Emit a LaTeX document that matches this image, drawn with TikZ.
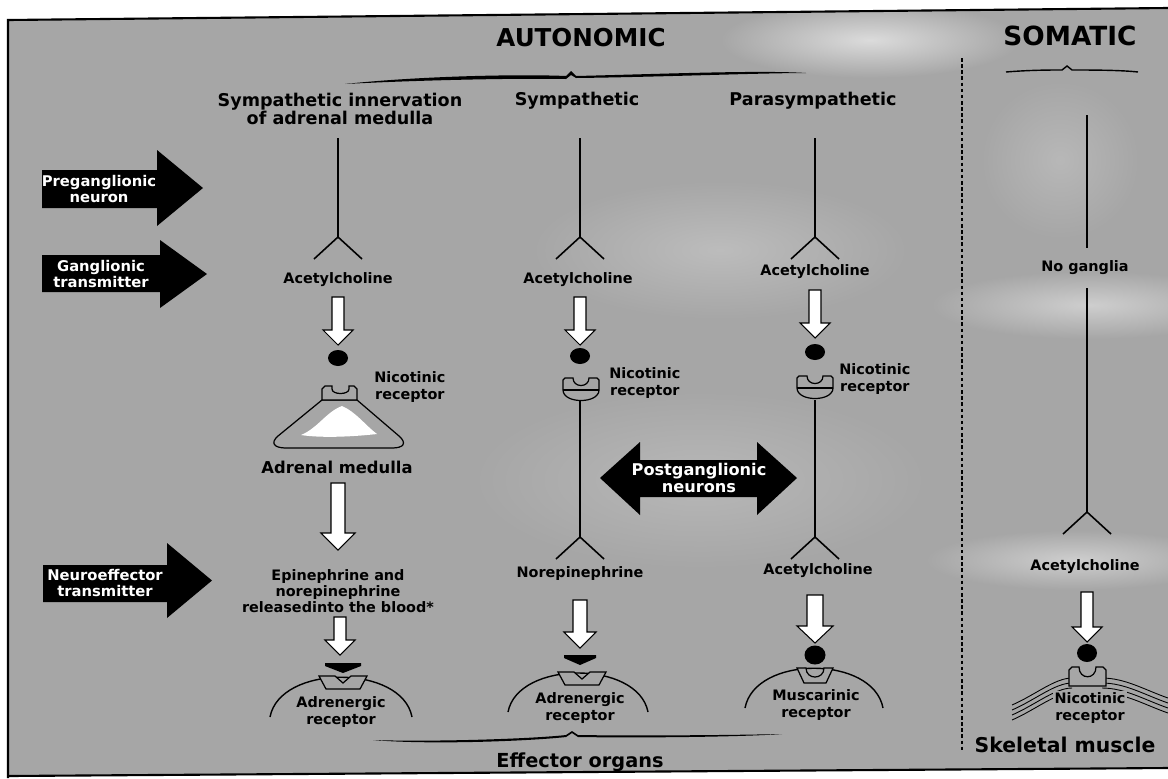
\documentclass[tikz,border=0pt]{standalone}
\usepackage{fontspec}
\setmainfont{DejaVu Sans}
\usetikzlibrary{shapes.geometric}
\definecolor{bg}{gray}{0.65}
\newcommand\wdown[6]{\draw[warr] (#1-#4,#2) -- (#1+#4,#2) -- (#1+#4,#3-#6) -- (#1+#5,#3-#6) -- (#1,#3) -- (#1-#5,#3-#6) -- (#1-#4,#3-#6) -- cycle;}
\newcommand\barrowR[7]{\fill[barr] (#1,#4) -- (#2,#4) -- (#2,#6) -- (#3,{(#6+#7)/2}) -- (#2,#7) -- (#2,#5) -- (#1,#5) -- cycle;}
\newcommand\nicup[2]{\draw[rec] (#1-18,#2+2) -- (#1-18,#2+12) .. controls (#1-18,#2+26) and (#1+18,#2+26) .. (#1+18,#2+12) -- (#1+18,#2+2) -- (#1+16,#2) -- (#1+8,#2) .. controls (#1+8,#2+10) and (#1-8,#2+10) .. (#1-8,#2) -- (#1-16,#2) -- cycle;
  \draw[line width=0.7pt] (#1-18,#2+12) -- (#1+18,#2+12);}
\newcommand\adrrec[5]{\draw[line width=0.8pt] (#3,#5) .. controls (#3+10,#2-13) and (#4-10,#2-13) .. (#4,#5);
  \draw[rec] (#1-24,#2-1) -- (#1-8,#2-1) -- (#1,#2+6) -- (#1+8,#2-1) -- (#1+24,#2-1) -- (#1+17,#2+12) -- (#1-17,#2+12) -- cycle;}
\newcommand\ligand[3]{\fill (#1-#3,#2) -- (#1+#3,#2) -- (#1+#3,#2+3) -- (#1,#2+10) -- (#1-#3,#2+3) -- cycle;}
\newcommand\neuronY[3]{\draw[nrn] (#1-24,#3+22) -- (#1,#3) -- (#1+24,#3+22); \draw[nrn] (#1,#2) -- (#1,#3);}
\newcommand\softpatch[5]{\shade[inner color=bg!#5!white, outer color=bg] (#1,#2) ellipse [x radius=#3, y radius=#4];}
\begin{document}
\begin{tikzpicture}[x=0.02cm,y=-0.02cm,
  lbl/.style={font=\bfseries\fontsize{8.2}{9.2}\selectfont, align=center, inner sep=0pt},
  hdr/.style={font=\bfseries\fontsize{10}{9.8}\selectfont, align=center, inner sep=0pt},
  big/.style={font=\bfseries\fontsize{14}{15}\selectfont, inner sep=0pt},
  bot/.style={font=\bfseries\fontsize{11}{12}\selectfont, inner sep=0pt},
  wl/.style={font=\bfseries\fontsize{8.4}{9.2}\selectfont, text=white, align=center, inner sep=0pt},
  nrn/.style={line width=0.9pt},
  warr/.style={draw=black, line width=0.6pt, fill=white},
  barr/.style={fill=black},
  rec/.style={draw=black, line width=0.7pt, fill=bg},
  dotn/.style={ellipse, fill=black, inner sep=0pt, minimum width=0.4cm, minimum height=0.32cm},
]
\useasboundingbox (0,0) rectangle (1168,778);
\fill[white] (0,0) rectangle (1168,778);
\fill[bg] (8,20) -- (1168,8) -- (1168,768) -- (8,776) -- cycle;
% lighter patches of the scan
\begin{scope}
\clip (8,20) -- (1168,8) -- (1168,768) -- (8,776) -- cycle;
\softpatch{870}{40}{150}{38}{40}
\softpatch{1090}{305}{160}{34}{55}
\softpatch{1075}{560}{150}{30}{55}
\softpatch{720}{250}{190}{70}{75}
\softpatch{1060}{160}{80}{80}{80}
\softpatch{700}{480}{230}{90}{80}
\end{scope}
% frame
\draw[line width=1.2pt] (8,778) -- (8,20) -- (1168,8);
\draw[line width=1.2pt] (8,776) -- (1168,768);
% headings and braces
\node[big] (auto) at (581,38) {AUTONOMIC};
\node[big, font=\bfseries\fontsize{15}{16}\selectfont] (soma) at (1070,36) {SOMATIC};
\fill (345,84) .. controls (420,76) and (520,74) .. (566,76) -- (571,71) -- (576,76) .. controls (660,74) and (760,70) .. (806,73) .. controls (760,73) and (660,77) .. (576,78) -- (571,75) -- (566,79) .. controls (520,78) and (420,80) .. (345,84) -- cycle;
\draw[line width=0.8pt] (1006,72) .. controls (1030,70) and (1050,70) .. (1062,70) -- (1067,66) -- (1072,70) .. controls (1090,70) and (1120,70) .. (1138,72);
\draw[line width=0.6pt, dash pattern=on 2pt off 1.5pt] (962,58) -- (962,752);
\node[hdr] (h1) at (340,109) {Sympathetic innervation\\of adrenal medulla};
\node[hdr] (h2) at (577,101) {Sympathetic};
\node[hdr] (h3) at (813,101) {Parasympathetic};
% left black arrows
\barrowR{42}{157}{203}{170}{208}{150}{226}
\node[wl] (pre) at (99,189) {Preganglionic\\neuron};
\barrowR{42}{160}{207}{255}{292}{240}{308}
\node[wl] (gan) at (101,274) {Ganglionic\\transmitter};
\barrowR{43}{167}{212}{565}{602}{543}{618}
\node[wl] (neu) at (105,583) {Neuroeffector\\transmitter};
% column 1: adrenal medulla
\neuronY{338}{138}{237}
\node[lbl] (ach1) at (338,280) {Acetylcholine};
\wdown{338}{297}{345}{6}{15}{15}
\node[dotn] (d1) at (338,358) {};
\draw[rec] (322,400) -- (278,436) .. controls (270,443) and (274,448) .. (286,448) -- (392,448) .. controls (404,448) and (407,443) .. (399,436) -- (357,400) -- cycle;
\fill[white] (301,435) .. controls (318,428) and (326,412) .. (342,406) .. controls (356,412) and (366,426) .. (377,434) .. controls (350,437) and (320,438) .. (301,435) -- cycle;
\draw[rec] (322,400) -- (322,389) -- (325,386) -- (332,386) -- (332,389) .. controls (332,395) and (349,395) .. (349,389) -- (349,386) -- (354,386) -- (357,389) -- (357,400) -- cycle;
\node[lbl, anchor=west] (nr1) at (374,387) {Nicotinic\\receptor};
\node[lbl, font=\bfseries\fontsize{9.3}{10}\selectfont] (am) at (337,467) {Adrenal medulla};
\wdown{338}{483}{550}{7}{17}{17}
\node[lbl] (epi) at (338,591) {Epinephrine and\\norepinephrine\\releasedinto the blood*};
\wdown{340}{617}{655}{6}{15}{15}
\ligand{343}{663}{18}
\adrrec{343}{677}{270}{412}{717}
\node[lbl] (ar1) at (341,712) {Adrenergic\\receptor};
% column 2: sympathetic
\neuronY{580}{138}{237}
\node[lbl] (ach2) at (578,280) {Acetylcholine};
\wdown{580}{297}{345}{6}{15}{15}
\node[dotn] (d2) at (580,356) {};
\nicup{581}{378}
\node[lbl, anchor=west] (nr2) at (609,383) {Nicotinic\\receptor};
\neuronY{580}{401}{537}
\node[lbl] (nor) at (580,574) {Norepinephrine};
\wdown{580}{600}{648}{7}{16}{16}
\ligand{580}{655}{16}
\adrrec{582}{673}{508}{648}{712}
\node[lbl] (ar2) at (580,708) {Adrenergic\\receptor};
% postganglionic double arrow
\fill[barr] (600,478) -- (640,442) -- (640,460) -- (757,460) -- (757,442) -- (797,478) -- (757,515) -- (757,497) -- (640,497) -- (640,515) -- cycle;
\node[wl, font=\bfseries\fontsize{9.2}{10}\selectfont] (post) at (699,478) {Postganglionic\\neurons};
% column 3: parasympathetic
\neuronY{815}{138}{237}
\node[lbl] (ach3) at (815,272) {Acetylcholine};
\wdown{815}{290}{338}{6}{15}{15}
\node[dotn] (d3) at (815,352) {};
\nicup{815}{376}
\node[lbl, anchor=west] (nr3) at (839,379) {Nicotinic\\receptor};
\neuronY{815}{400}{537}
\node[lbl] (ach4) at (818,571) {Acetylcholine};
\wdown{815}{595}{643}{8}{18}{17}
\node[dotn, minimum width=0.42cm, minimum height=0.38cm] (d4) at (815,655) {};
\draw[line width=0.8pt] (745,708) .. controls (755,655) and (873,655) .. (883,708);
\draw[rec] (797,668) -- (806,668) .. controls (806,680) and (824,680) .. (824,668) -- (833,668) -- (826,683) -- (804,683) -- cycle;
\node[lbl] (mr) at (816,705) {Muscarinic\\receptor};
% column 4: somatic
\draw[nrn] (1087,115) -- (1087,248);
\node[lbl] (nog) at (1085,268) {No ganglia};
\neuronY{1087}{288}{512}
\node[lbl] (ach5) at (1085,567) {Acetylcholine};
\wdown{1087}{592}{642}{6}{15}{15}
\node[dotn, minimum width=0.4cm, minimum height=0.36cm] (d5) at (1087,653) {};
\foreach \k in {0,5,10,15} {
  \draw[line width=0.5pt] (1012,705+\k) .. controls (1035,695+\k) and (1055,678+\k) .. (1072,678+\k);
  \draw[line width=0.5pt] (1102,678+\k) .. controls (1125,678+\k) and (1145,690+\k) .. (1168,698+\k);
}
\draw[rec] (1069,686) -- (1069,670) -- (1072,667) -- (1079,667) .. controls (1079,680) and (1096,680) .. (1096,667) -- (1103,667) -- (1106,670) -- (1106,686) -- cycle;
\node[lbl, fill=bg, inner sep=1pt] (nr4) at (1090,708) {Nicotinic\\receptor};
\node[bot, font=\bfseries\fontsize{11.6}{12}\selectfont] (sk) at (1065,745) {Skeletal muscle};
% effector organs
\fill (373,740) .. controls (430,745) and (530,741) .. (566,737) -- (572,733) -- (578,737) .. controls (640,738) and (740,737) .. (782,734) .. controls (740,735) and (640,736) .. (578,735) -- (572,731) -- (566,735) .. controls (530,739) and (430,742) .. (373,740) -- cycle;
\node[bot] (eff) at (580,762) {Effector organs};
\end{tikzpicture}
\end{document}
